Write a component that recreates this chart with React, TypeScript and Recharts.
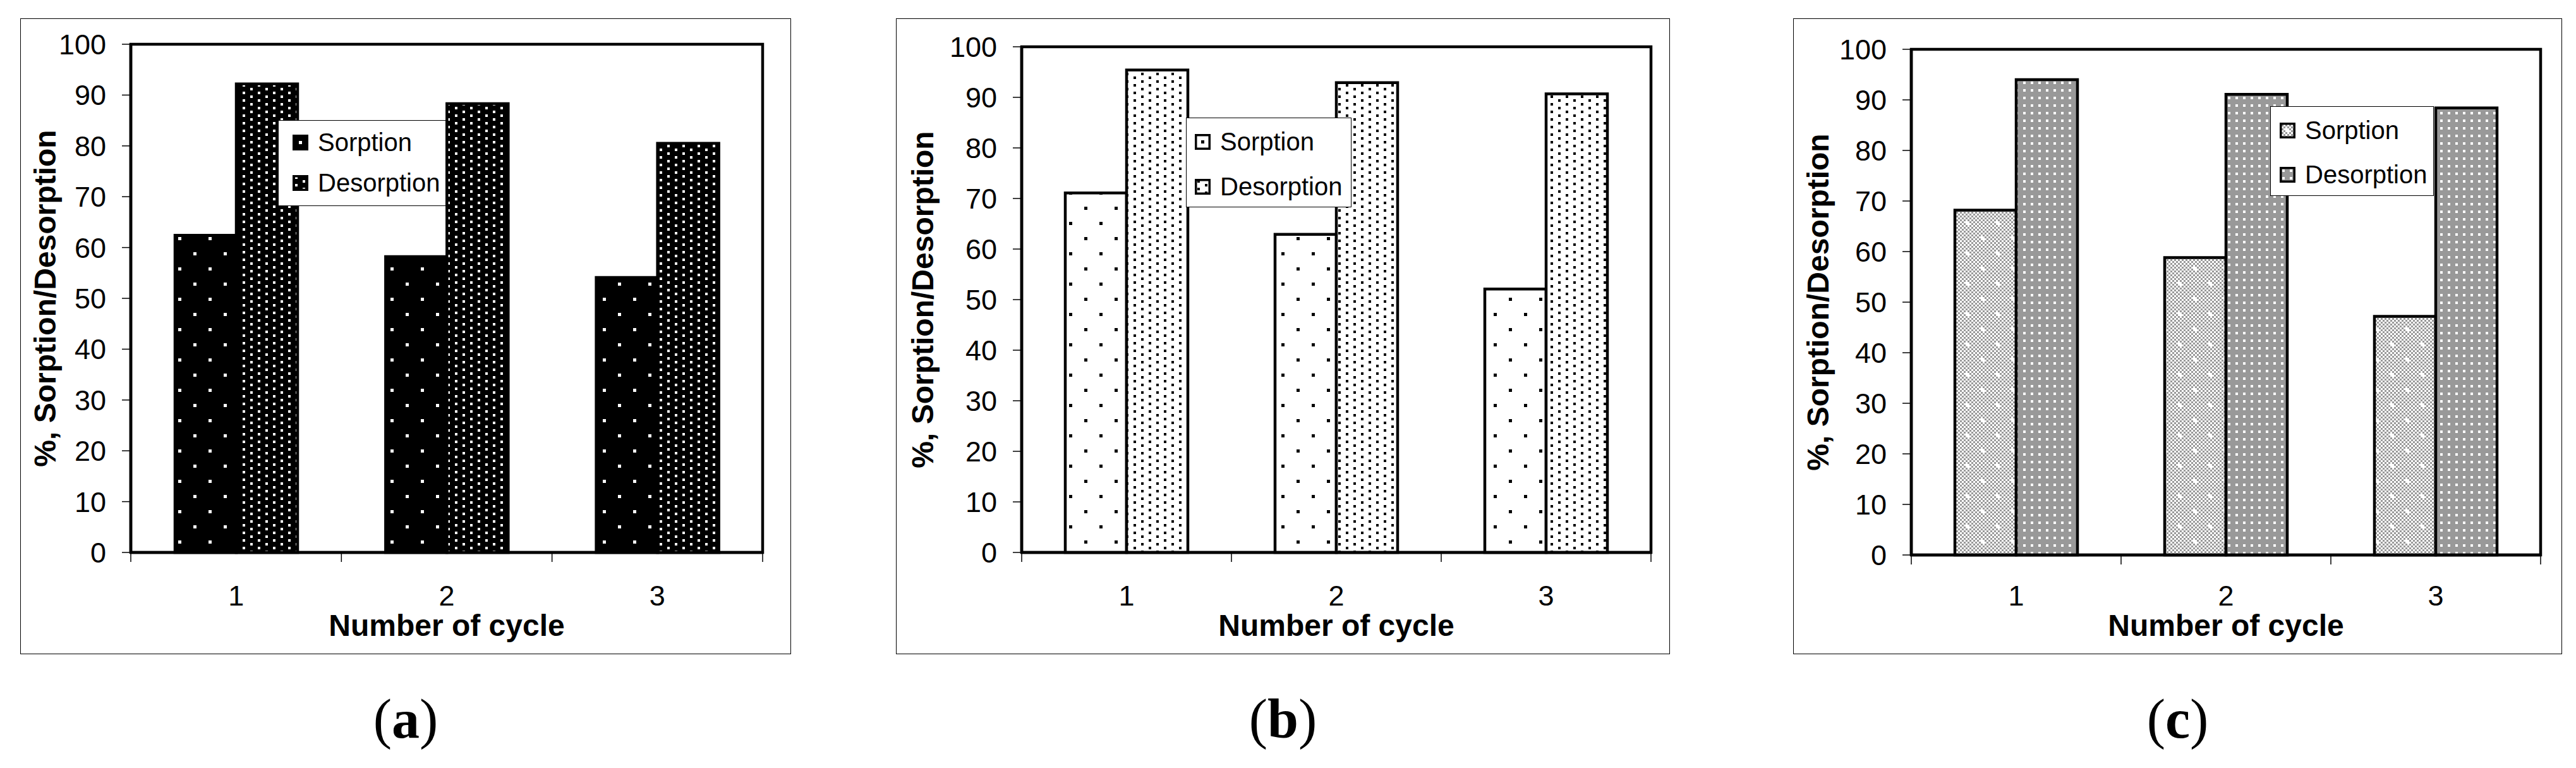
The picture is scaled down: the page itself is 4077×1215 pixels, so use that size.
import React from 'react';
import { BarChart, Bar, XAxis, YAxis, Legend, ReferenceArea } from 'recharts';

// values (a, b, c)
const cycles = ['1', '2', '3'];
const sorptionA = [62.4, 58.2, 54.1];
const desorptionA = [92.2, 88.3, 80.5];
const sorptionB = [71.1, 62.9, 52.1];
const desorptionB = [95.4, 92.9, 90.7];
const sorptionC = [68.2, 58.8, 47.2];
const desorptionC = [94.0, 91.1, 88.4];
const yTicks = [0, 10, 20, 30, 40, 50, 60, 70, 80, 90, 100];
const seriesNames = ['Sorption', 'Desorption'];
const yTitle = '%, Sorption/Desorption';
const xTitle = 'Number of cycle';

const SANS = '"Liberation Sans", Arial, Helvetica, sans-serif';
const SERIF = '"Liberation Serif", "Times New Roman", serif';
const LABEL_TOP = 926; // top of the category digits, same in every panel

interface LegendBox {
  x: number;
  y: number;
  w: number;
  h: number;
  sw: number;
  rows: number[];
}

interface Panel {
  id: string;
  sorption: number[];
  desorption: number[];
  frame: { x: number; y: number; w: number; h: number };
  plot: { left: number; right: number; top: number; bottom: number };
  labelX: number;
  legend: LegendBox;
}

const panels: Panel[] = [
  {
    id: 'a',
    sorption: sorptionA,
    desorption: desorptionA,
    frame: { x: 32, y: 29, w: 1220, h: 1006 },
    plot: { left: 207, right: 1207, top: 70, bottom: 874 },
    labelX: 39,
    legend: { x: 440, y: 190, w: 266, h: 136, sw: 22, rows: [34, 98] },
  },
  {
    id: 'b',
    sorption: sorptionB,
    desorption: desorptionB,
    frame: { x: 1418, y: 29, w: 1225, h: 1006 },
    plot: { left: 1617, right: 2613, top: 74, bottom: 874 },
    labelX: 42,
    legend: { x: 1877, y: 186, w: 262, h: 142, sw: 13, rows: [37, 108] },
  },
  {
    id: 'c',
    sorption: sorptionC,
    desorption: desorptionC,
    frame: { x: 2838, y: 29, w: 1217, h: 1006 },
    plot: { left: 3025, right: 4021, top: 78, bottom: 878 },
    labelX: 39,
    legend: { x: 3593, y: 168, w: 259, h: 142, sw: 14, rows: [37, 107] },
  },
];

function Patterns({ id }: { id: string }) {
  if (id === 'c') {
    return (
      <defs>
        <pattern id="c-chk" width={6} height={6} patternUnits="userSpaceOnUse">
          <rect width={6} height={6} fill="#fff" />
          <rect width={3} height={3} fill="#999" />
          <rect x={3} y={3} width={3} height={3} fill="#999" />
        </pattern>
        <pattern id="c-s" width={48} height={48} patternUnits="userSpaceOnUse">
          <rect width={48} height={48} fill="url(#c-chk)" />
          <rect x={9} y={9} width={6} height={6} fill="#fff" />
          <rect x={33} y={33} width={6} height={6} fill="#fff" />
        </pattern>
        <pattern id="c-d" width={12} height={12} patternUnits="userSpaceOnUse">
          <rect width={12} height={12} fill="#999" />
          <rect x={4} y={4} width={4} height={4} fill="#fff" />
        </pattern>
      </defs>
    );
  }
  const bg = id === 'a' ? '#000' : '#fff';
  const fg = id === 'a' ? '#fff' : '#000';
  return (
    <defs>
      <pattern id={`${id}-s`} width={48} height={48} patternUnits="userSpaceOnUse">
        <rect width={48} height={48} fill={bg} />
        <rect x={10} y={10} width={5} height={5} fill={fg} />
        <rect x={34} y={34} width={5} height={5} fill={fg} />
      </pattern>
      <pattern id={`${id}-d`} width={24} height={12} patternUnits="userSpaceOnUse">
        <rect width={24} height={12} fill={bg} />
        <rect x={4} y={2} width={4} height={4} fill={fg} />
        <rect x={16} y={8} width={4} height={4} fill={fg} />
      </pattern>
    </defs>
  );
}

const legendContent = (box: LegendBox) => (props: any) => {
  // keep series order (recharts sorts legend items by name otherwise)
  const items = [...(props.payload ?? [])].sort(
    (p: any, q: any) => seriesNames.indexOf(p.value) - seriesNames.indexOf(q.value),
  );
  return (
    <div
      style={{
        position: 'relative',
        width: box.w,
        height: box.h,
        boxSizing: 'border-box',
        border: '1.5px solid #000',
        background: '#fff',
      }}
    >
      {items.map((entry: any, i: number) => (
        <div
          key={entry.value}
          style={{
            position: 'absolute',
            left: box.sw,
            top: box.rows[i] - 25,
            height: 50,
            display: 'flex',
            alignItems: 'center',
            whiteSpace: 'nowrap',
          }}
        >
          <svg width={25} height={25} style={{ display: 'block' }}>
            <rect x={1.75} y={1.75} width={21.5} height={21.5} fill={entry.color} stroke="#000" strokeWidth={3.5} />
          </svg>
          <span style={{ marginLeft: 15, fontSize: 40, fontFamily: SANS, color: '#000', lineHeight: '50px' }}>
            {entry.value}
          </span>
        </div>
      ))}
    </div>
  );
};

// category labels sit in the middle, tick marks between categories (Excel style)
const makeCycleTick = (half: number, axisY: number) => (props: any) => {
  const { x, y, payload, index } = props;
  const last = index === cycles.length - 1;
  return (
    <g>
      <line x1={x - half} x2={x - half} y1={axisY} y2={axisY + 15} stroke="#000" strokeWidth={1.5} />
      {last && <line x1={x + half} x2={x + half} y1={axisY} y2={axisY + 15} stroke="#000" strokeWidth={1.5} />}
      <text x={x} y={y} dy="0.71em" textAnchor="middle" fontSize={45} fontFamily={SANS} fill="#000">
        {payload.value}
      </text>
    </g>
  );
};

function PanelChart({ panel }: { panel: Panel }) {
  const { id, frame, plot, legend } = panel;
  const data = cycles.map((c, i) => ({
    cycle: c,
    sorption: panel.sorption[i],
    desorption: panel.desorption[i],
  }));
  const half = (plot.right - plot.left) / cycles.length / 2;
  const thick = { stroke: '#000', strokeWidth: 4.5 };
  const thin = { stroke: '#000', strokeWidth: 1.5 };
  const axisY = plot.bottom - frame.y;

  return (
    <>
      <div
        style={{
          position: 'absolute',
          left: frame.x,
          top: frame.y,
          width: frame.w,
          height: frame.h,
          border: '1.5px solid #000',
          boxSizing: 'border-box',
        }}
      />
      <div style={{ position: 'absolute', left: frame.x, top: frame.y }}>
        <BarChart
          width={frame.w}
          height={frame.h}
          data={data}
          barGap={0}
          barSize={97}
          margin={{ top: plot.top - frame.y, right: frame.x + frame.w - plot.right, bottom: 0, left: 0 }}
          style={{ fontFamily: SANS }}
        >
          <Patterns id={id} />
          <XAxis
            dataKey="cycle"
            height={frame.y + frame.h - plot.bottom}
            axisLine={thick}
            tickLine={false}
            tickSize={15}
            tickMargin={LABEL_TOP - plot.bottom - 15}
            interval={0}
            tick={makeCycleTick(half, axisY)}
            label={{
              value: xTitle,
              position: 'insideBottom',
              offset: 29,
              style: { fontSize: 48, fontWeight: 700, fontFamily: SANS, fill: '#000' },
            }}
          />
          <YAxis
            type="number"
            domain={[0, 100]}
            ticks={yTicks}
            interval={0}
            width={plot.left - frame.x}
            axisLine={thick}
            tickLine={thin}
            tickSize={14}
            tickMargin={25}
            tick={{ fontSize: 45, fontFamily: SANS, fill: '#000' }}
            label={{
              value: yTitle,
              angle: -90,
              position: 'insideLeft',
              offset: panel.labelX,
              style: { textAnchor: 'middle', fontSize: 48, fontWeight: 700, fontFamily: SANS, fill: '#000' },
            }}
          />
          <ReferenceArea y1={0} y2={100} fill="none" fillOpacity={0} stroke="#000" strokeWidth={4.5} />
          <Bar
            dataKey="sorption"
            name={seriesNames[0]}
            fill={`url(#${id}-s)`}
            stroke="#000"
            strokeWidth={4.5}
            isAnimationActive={false}
          />
          <Bar
            dataKey="desorption"
            name={seriesNames[1]}
            fill={`url(#${id}-d)`}
            stroke="#000"
            strokeWidth={4.5}
            isAnimationActive={false}
          />
          <Legend
            layout="vertical"
            align="center"
            verticalAlign="middle"
            wrapperStyle={{
              left: legend.x - frame.x,
              top: legend.y - frame.y,
              width: legend.w,
              height: legend.h,
            }}
            content={legendContent(legend)}
          />
        </BarChart>
      </div>
      <div
        style={{
          position: 'absolute',
          left: frame.x,
          width: frame.w,
          top: 1094,
          textAlign: 'center',
          fontFamily: SERIF,
          fontSize: 88,
          lineHeight: 1,
          color: '#000',
        }}
      >
        (<b>{id}</b>)
      </div>
    </>
  );
}

export default function App() {
  return (
    <div style={{ position: 'absolute', left: 0, top: 0, width: 4077, height: 1215, background: '#fff' }}>
      {panels.map((p) => (
        <PanelChart key={p.id} panel={p} />
      ))}
    </div>
  );
}
